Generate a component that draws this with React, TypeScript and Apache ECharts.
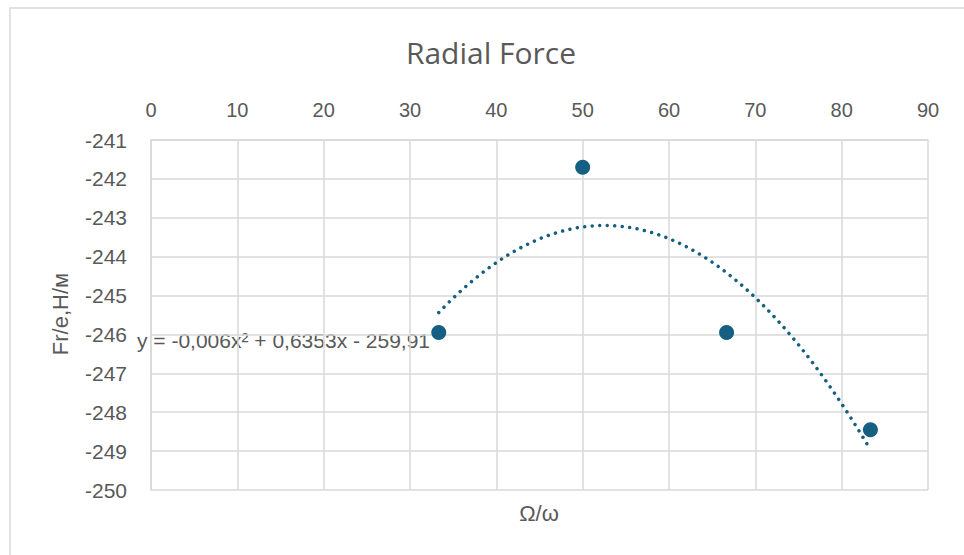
import React, { useEffect, useRef } from "react";
import * as echarts from "echarts";

// Data
const xValues = [33.33, 50, 66.67, 83.33];
const yValues = [-245.95, -241.7, -245.95, -248.45];
const chartTitle = "Radial Force";
const xAxisName = "Ω/ω";
const yAxisName = "Fr/e,Н/м";
const trendLabel = "y = -0,006x² + 0,6353x - 259,91";

const COLOR = "#156082";
const GRID = "#d9d9d9";
const TEXT = "#595959";
const FONT = "'Liberation Sans', Arial, sans-serif";

// Least-squares quadratic fit of the data (Excel polynomial trendline, order 2)
function quadFit(xs: number[], ys: number[]) {
  let s0 = 0, s1 = 0, s2 = 0, s3 = 0, s4 = 0, t0 = 0, t1 = 0, t2 = 0;
  for (let i = 0; i < xs.length; i++) {
    const x = xs[i], y = ys[i];
    s0 += 1; s1 += x; s2 += x * x; s3 += x * x * x; s4 += x * x * x * x;
    t0 += y; t1 += x * y; t2 += x * x * y;
  }
  const det3 = (m: number[][]) =>
    m[0][0] * (m[1][1] * m[2][2] - m[1][2] * m[2][1]) -
    m[0][1] * (m[1][0] * m[2][2] - m[1][2] * m[2][0]) +
    m[0][2] * (m[1][0] * m[2][1] - m[1][1] * m[2][0]);
  const A = [[s0, s1, s2], [s1, s2, s3], [s2, s3, s4]];
  const B = [t0, t1, t2];
  const D = det3(A);
  const coef = [0, 1, 2].map((k) => {
    const M = A.map((row, r) => row.map((v, c) => (c === k ? B[r] : v)));
    return det3(M) / D;
  });
  return coef; // c0 + c1 x + c2 x^2
}

function buildTrend() {
  const [c0, c1, c2] = quadFit(xValues, yValues);
  const lo = Math.min(...xValues);
  const hi = Math.max(...xValues);
  const n = 120;
  const pts: number[][] = [];
  for (let i = 0; i <= n; i++) {
    const x = lo + ((hi - lo) * i) / n;
    pts.push([x, c0 + c1 * x + c2 * x * x]);
  }
  return pts;
}

export default function App() {
  const ref = useRef<HTMLDivElement>(null);
  useEffect(() => {
    const chart = echarts.init(ref.current!, null, { renderer: "svg" });
    chart.setOption({
      animation: false,
      backgroundColor: "#ffffff",
      grid: { left: 151, right: 36, top: 140, bottom: 65, containLabel: false },
      xAxis: {
        type: "value",
        position: "top",
        min: 0,
        max: 90,
        interval: 10,
        axisLine: { show: true, onZero: false, lineStyle: { color: GRID, width: 1.5 } },
        axisTick: { show: false },
        axisLabel: { color: TEXT, fontSize: 20, fontFamily: FONT, margin: 20 },
        splitLine: { show: true, lineStyle: { color: GRID, width: 1.5 } },
      },
      yAxis: {
        type: "value",
        min: -250,
        max: -241,
        interval: 1,
        axisLine: { show: true, onZero: false, lineStyle: { color: GRID, width: 1.5 } },
        axisTick: { show: false },
        axisLabel: { color: TEXT, fontSize: 21, fontFamily: FONT, margin: 24 },
        splitLine: { show: true, lineStyle: { color: GRID, width: 1.5 } },
      },
      series: [
        {
          type: "line",
          data: buildTrend(),
          showSymbol: false,
          symbol: "none",
          smooth: false,
          lineStyle: { color: COLOR, width: 3.5, type: [0.01, 7.5], cap: "round", opacity: 1 },
          z: 2,
        },
        {
          type: "scatter",
          data: xValues.map((x, i) => [x, yValues[i]]),
          symbol: "circle",
          symbolSize: 15,
          itemStyle: { color: COLOR, opacity: 1 },
          z: 3,
        },
      ],
      graphic: [
        {
          type: "rect",
          silent: true,
          z: -1,
          shape: { x: 10, y: 8, width: 1000, height: 600 },
          style: { fill: "none", stroke: GRID, lineWidth: 1.5 },
        },
        {
          type: "text",
          x: 491,
          y: 52,
          style: {
            text: chartTitle,
            fill: TEXT,
            fontSize: 30,
            fontFamily: "'Open Sans', sans-serif",
            align: "center",
            verticalAlign: "middle",
          },
        },
        {
          type: "text",
          x: 137,
          y: 340,
          style: {
            text: trendLabel,
            fill: TEXT,
            fontSize: 21,
            fontFamily: FONT,
            align: "left",
            verticalAlign: "middle",
          },
        },
        {
          type: "text",
          x: 539,
          y: 513,
          style: {
            text: xAxisName,
            fill: TEXT,
            fontSize: 22,
            fontFamily: FONT,
            align: "center",
            verticalAlign: "middle",
          },
        },
        {
          type: "text",
          x: 60,
          y: 314,
          rotation: Math.PI / 2,
          style: {
            text: yAxisName,
            fill: TEXT,
            fontSize: 22,
            fontFamily: FONT,
            align: "center",
            verticalAlign: "middle",
          },
        },
      ],
    });
    return () => chart.dispose();
  }, []);
  return (
    <div
      ref={ref}
      style={{ position: "fixed", left: 0, top: 0, width: 964, height: 555, background: "#fff" }}
    />
  );
}
